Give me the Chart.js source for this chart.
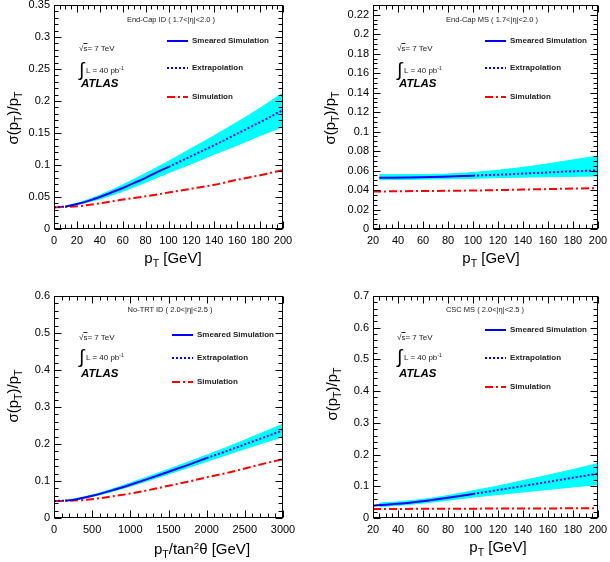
<!DOCTYPE html>
<html>
<head>
<meta charset="utf-8">
<title>Muon pT resolution</title>
<script src="https://cdn.jsdelivr.net/npm/chart.js@4.4.1/dist/chart.umd.min.js"></script>
<style>
  body { margin: 0; background: #fff; }
  #page { position: relative; width: 610px; height: 562px; overflow: hidden; font-family: "Liberation Sans", Arial, sans-serif; color: #000; }
  #page canvas { position: absolute; }
  .lbl { position: absolute; white-space: nowrap; line-height: 1; }
  .sub { font-size: 70%; position: relative; top: 0.4em; }
  .sup { font-size: 65%; position: relative; top: -0.5em; }
  .ov { text-decoration: overline; }
</style>
</head>
<body>
<div id="page">
  <canvas id="c1" width="305" height="281" style="left:0;top:0"></canvas>
  <canvas id="c2" width="305" height="281" style="left:305px;top:0"></canvas>
  <canvas id="c3" width="305" height="281" style="left:0;top:281px"></canvas>
  <canvas id="c4" width="305" height="281" style="left:305px;top:281px"></canvas>
</div>
<script>
// End-Cap ID (1.7<|eta|<2.0)
const ecidSimX = [0, 20, 40, 60, 80, 100, 120, 140, 160, 180, 200];
const ecidSimY = [0.034, 0.0355, 0.040, 0.046, 0.051, 0.057, 0.063, 0.069, 0.077, 0.084, 0.092];
const ecidSmearX = [10, 20, 30, 40, 50, 60, 70, 80, 90, 100];
const ecidSmearY = [0.035, 0.039, 0.044, 0.050, 0.057, 0.064, 0.072, 0.080, 0.089, 0.097];
const ecidExtX = [0, 10, 55, 100, 120, 140, 160, 180, 200];
const ecidExtY = [0.034, 0.035, null, 0.097, 0.114, 0.131, 0.149, 0.167, 0.186];
const ecidBandX = [10, 20, 40, 60, 80, 100, 120, 140, 160, 180, 200];
const ecidBandLo = [0.034, 0.038, 0.047, 0.059, 0.073, 0.088, 0.102, 0.117, 0.131, 0.146, 0.160];
const ecidBandHi = [0.035, 0.040, 0.053, 0.069, 0.087, 0.106, 0.126, 0.146, 0.167, 0.189, 0.213];

// End-Cap MS (1.7<|eta|<2.0)
const ecmsSimX = [20, 60, 100, 140, 200];
const ecmsSimY = [0.0385, 0.039, 0.0395, 0.0405, 0.042];
const ecmsSmearX = [25, 50, 75, 100];
const ecmsSmearY = [0.0525, 0.053, 0.0537, 0.0548];
const ecmsExtX = [100, 125, 150, 175, 200];
const ecmsExtY = [0.0548, 0.056, 0.0575, 0.059, 0.0602];
const ecmsBandX = [25, 50, 75, 100, 125, 150, 175, 200];
const ecmsBandLo = [0.0505, 0.051, 0.0515, 0.052, 0.053, 0.0535, 0.054, 0.0545];
const ecmsBandHi = [0.0558, 0.0558, 0.0562, 0.058, 0.061, 0.065, 0.070, 0.075];

// No-TRT ID (2.0<|eta|<2.5)
const ntSimX = [0, 250, 500, 750, 1000, 1250, 1500, 1750, 2000, 2250, 2500, 2750, 3000];
const ntSimY = [0.046, 0.047, 0.051, 0.058, 0.066, 0.076, 0.087, 0.098, 0.110, 0.121, 0.134, 0.147, 0.159];
const ntSmearX = [150, 250, 500, 750, 1000, 1250, 1500, 1750, 2000];
const ntSmearY = [0.047, 0.049, 0.060, 0.074, 0.090, 0.107, 0.125, 0.143, 0.162];
const ntExtX = [0, 150, 1000, 2000, 2250, 2500, 2750, 3000];
const ntExtY = [0.046, 0.047, null, 0.162, 0.180, 0.199, 0.218, 0.237];
const ntBandX = [150, 500, 1000, 1500, 2000, 2500, 3000];
const ntBandLo = [0.046, 0.058, 0.086, 0.119, 0.153, 0.187, 0.220];
const ntBandHi = [0.047, 0.062, 0.095, 0.132, 0.170, 0.211, 0.254];

// CSC MS (2.0<|eta|<2.5)
const cscSimX = [20, 60, 100, 150, 200];
const cscSimY = [0.028, 0.029, 0.0295, 0.030, 0.031];
const cscSmearX = [20, 40, 60, 80, 100];
const cscSmearY = [0.039, 0.045, 0.053, 0.064, 0.076];
const cscExtX = [100, 120, 140, 160, 180, 200];
const cscExtY = [0.076, 0.088, 0.101, 0.114, 0.127, 0.140];
const cscBandX = [25, 40, 60, 80, 100, 120, 140, 160, 180, 200];
const cscBandLo = [0.036, 0.040, 0.047, 0.056, 0.066, 0.074, 0.082, 0.090, 0.098, 0.105];
const cscBandHi = [0.047, 0.051, 0.059, 0.071, 0.086, 0.101, 0.118, 0.135, 0.153, 0.172];

const panelTitles = ["End-Cap ID ( 1.7<|η|<2.0 )", "End-Cap MS ( 1.7<|η|<2.0 )", "No-TRT ID ( 2.0<|η|<2.5 )", "CSC MS ( 2.0<|η|<2.5 )"];
const legendLabels = ["Smeared Simulation", "Extrapolation", "Simulation"];

const CYAN = "#00ffff";
const BLUE = "#0000ff";
const RED = "#ff0000";
const DASH_DOT = [8, 3, 2, 3];
const DOTS = [2, 2];

const pts = (xs, ys) => xs.map((x, i) => ({ x: x, y: ys[i] }));
const fmt = v => String(Math.round(v * 1000) / 1000);
const onStep = (v, step) => Math.abs(v / step - Math.round(v / step)) < 1e-6;

// frame + inward major/minor ticks on all four sides (ROOT look)
const frameTicks = {
    id: "frameTicks",
    afterDatasetsDraw(chart, args, opts) {
        const { ctx, chartArea: a, scales } = chart;
        const L = Math.round(a.left) + 0.5, R = Math.round(a.right) - 0.5;
        const T = Math.round(a.top) + 0.5, B = Math.round(a.bottom) - 0.5;
        ctx.save();
        ctx.strokeStyle = "#000";
        ctx.lineWidth = 1;
        ctx.strokeRect(L, T, R - L, B - T);
        ctx.beginPath();
        ["x", "y"].forEach(k => {
            const s = scales[k];
            const step = opts[k + "Step"], minor = opts[k + "Minor"];
            const n = Math.round((s.max - s.min) / minor);
            for (let i = 0; i <= n; i++) {
                const v = s.min + i * minor;
                const len = onStep(v, step) ? 7 : 4;
                const p = Math.round(s.getPixelForValue(v)) + 0.5;
                if (k === "x") {
                    ctx.moveTo(p, B); ctx.lineTo(p, B - len);
                    ctx.moveTo(p, T); ctx.lineTo(p, T + len);
                } else {
                    ctx.moveTo(L, p); ctx.lineTo(L + len, p);
                    ctx.moveTo(R, p); ctx.lineTo(R - len, p);
                }
            }
        });
        ctx.stroke();
        ctx.restore();
    }
};

function makePanel(id, area, xr, yr, d) {
    const canvas = document.getElementById(id);
    const W = canvas.width, H = canvas.height;
    const tickFont = { family: "'Liberation Sans', Arial, sans-serif", size: 11 };
    return new Chart(canvas, {
        type: "line",
        data: {
            datasets: [
                { label: "bandLo", data: pts(d.bandX, d.bandLo), borderColor: CYAN, borderWidth: 1, pointRadius: 0, fill: false, order: 3 },
                { label: "bandHi", data: pts(d.bandX, d.bandHi), borderColor: CYAN, borderWidth: 1, pointRadius: 0, fill: 0, backgroundColor: CYAN, order: 3 },
                { label: "Simulation", data: pts(d.simX, d.simY), borderColor: RED, borderWidth: 2, borderDash: DASH_DOT, pointRadius: 0, fill: false, order: 2 },
                { label: "Smeared Simulation", data: pts(d.smearX, d.smearY), borderColor: BLUE, borderWidth: 2, pointRadius: 0, fill: false, order: 1 },
                { label: "Extrapolation", data: pts(d.extX, d.extY), borderColor: BLUE, borderWidth: 2, borderDash: DOTS, pointRadius: 0, fill: false, spanGaps: false, order: 0 }
            ]
        },
        options: {
            responsive: false,
            animation: false,
            cubicInterpolationMode: "monotone",
            layout: { padding: { left: 0, top: area.t, right: W - area.r, bottom: 0 } },
            plugins: {
                legend: { display: false },
                tooltip: { enabled: false },
                frameTicks: { xStep: xr.step, xMinor: xr.minor, yStep: yr.step, yMinor: yr.minor }
            },
            scales: {
                x: {
                    type: "linear", min: xr.min, max: xr.max, bounds: "data",
                    grid: { display: false, drawTicks: false }, border: { display: false },
                    ticks: { stepSize: xr.step, includeBounds: false, autoSkip: false, maxRotation: 0, padding: 5, color: "#000", font: tickFont, callback: fmt },
                    afterBuildTicks: s => { s.ticks = s.ticks.filter(t => onStep(t.value, xr.step)); },
                    afterFit: s => { s.height = H - area.b; s.paddingLeft = 0; s.paddingRight = 0; }
                },
                y: {
                    type: "linear", min: yr.min, max: yr.max, bounds: "data",
                    grid: { display: false, drawTicks: false }, border: { display: false },
                    ticks: { stepSize: yr.step, includeBounds: false, autoSkip: false, padding: 4, color: "#000", font: tickFont, callback: fmt },
                    afterBuildTicks: s => { s.ticks = s.ticks.filter(t => onStep(t.value, yr.step)); },
                    afterFit: s => { s.width = area.l; s.paddingTop = 0; s.paddingBottom = 0; }
                }
            }
        },
        plugins: [frameTicks]
    });
}

makePanel("c1", { l: 54, r: 283, t: 5, b: 229 },
    { min: 0, max: 200, step: 20, minor: 5 }, { min: 0, max: 0.35, step: 0.05, minor: 0.01 },
    { simX: ecidSimX, simY: ecidSimY, smearX: ecidSmearX, smearY: ecidSmearY, extX: ecidExtX, extY: ecidExtY, bandX: ecidBandX, bandLo: ecidBandLo, bandHi: ecidBandHi });
makePanel("c2", { l: 68, r: 293, t: 5, b: 229 },
    { min: 20, max: 200, step: 20, minor: 5 }, { min: 0, max: 0.23, step: 0.02, minor: 0.005 },
    { simX: ecmsSimX, simY: ecmsSimY, smearX: ecmsSmearX, smearY: ecmsSmearY, extX: ecmsExtX, extY: ecmsExtY, bandX: ecmsBandX, bandLo: ecmsBandLo, bandHi: ecmsBandHi });
makePanel("c3", { l: 54, r: 283, t: 15, b: 237 },
    { min: 0, max: 3000, step: 500, minor: 100 }, { min: 0, max: 0.6, step: 0.1, minor: 0.02 },
    { simX: ntSimX, simY: ntSimY, smearX: ntSmearX, smearY: ntSmearY, extX: ntExtX, extY: ntExtY, bandX: ntBandX, bandLo: ntBandLo, bandHi: ntBandHi });
makePanel("c4", { l: 68, r: 293, t: 15, b: 237 },
    { min: 20, max: 200, step: 20, minor: 5 }, { min: 0, max: 0.7, step: 0.1, minor: 0.02 },
    { simX: cscSimX, simY: cscSimY, smearX: cscSmearX, smearY: cscSmearY, extX: cscExtX, extY: cscExtY, bandX: cscBandX, bandLo: cscBandLo, bandHi: cscBandHi });

// text overlays (real HTML text so sub/superscripts work)
const page = document.getElementById("page");
function label(html, x, y, size, extra) {
    const el = document.createElement("div");
    el.className = "lbl";
    el.innerHTML = html;
    el.style.left = x + "px";
    el.style.top = y + "px";
    el.style.fontSize = size + "px";
    el.style.transform = "translate(0,-50%)";
    Object.assign(el.style, extra || {});
    page.appendChild(el);
    return el;
}
const center = { transform: "translate(-50%,-50%)" };
const rotated = { transform: "translate(-50%,-50%) rotate(-90deg)" };
const yTitle = "σ(p<span class='sub'>T</span>)/p<span class='sub'>T</span>";

// per panel: title centre, legend sample x / rows, annotation x / rows, axis titles
const layouts = [
    { title: [171, 20], legX: 167, legY: [41, 68, 97], annX: 80, annY: [49, 70, 84], yT: [12, 118], xT: [173, 257], xText: "p<span class='sub'>T</span> [GeV]" },
    { title: [492, 20], legX: 485, legY: [41, 68, 97], annX: 398, annY: [49, 70, 84], yT: [329, 118], xT: [491, 257], xText: "p<span class='sub'>T</span> [GeV]" },
    { title: [170, 310], legX: 172, legY: [335, 358, 382], annX: 80, annY: [338, 357, 374], yT: [12, 396], xT: [202, 548], xText: "p<span class='sub'>T</span>/tan<span class='sup'>2</span>θ [GeV]" },
    { title: [485, 310], legX: 485, legY: [330, 358, 387], annX: 398, annY: [338, 357, 374], yT: [331, 394], xT: [498, 546], xText: "p<span class='sub'>T</span> [GeV]" }
];
const legendStyles = [
    { color: BLUE, dash: "" },
    { color: BLUE, dash: DOTS.join(",") },
    { color: RED, dash: DASH_DOT.join(",") }
];

layouts.forEach((p, i) => {
    label(panelTitles[i], p.title[0], p.title[1], 7.5, Object.assign({ color: "#222" }, center));
    legendLabels.forEach((txt, j) => {
        const st = legendStyles[j];
        const svg = `<svg width="21" height="4" style="position:absolute;left:0;top:-2px"><line x1="0" y1="2" x2="21" y2="2" stroke="${st.color}" stroke-width="2" stroke-dasharray="${st.dash}"/></svg>`;
        label(svg, p.legX, p.legY[j], 8);
        label(txt, p.legX + 25, p.legY[j], 8, { fontWeight: "bold", color: "#222" });
    });
    label("√<span class='ov'>s</span>= 7 TeV", p.annX - 1, p.annY[0], 8, { color: "#222" });
    label("∫", p.annX - 1, p.annY[1] - 1, 19, { fontFamily: "'DejaVu Sans', sans-serif", fontWeight: "300" });
    label("L = 40 pb<span class='sup'>-1</span>", p.annX + 6, p.annY[1] + 1, 8, { color: "#222" });
    label("ATLAS", p.annX + 1, p.annY[2], 11.5, { fontWeight: "bold", fontStyle: "italic" });
    label(yTitle, p.yT[0], p.yT[1], 15, rotated);
    label(p.xText, p.xT[0], p.xT[1], 15, center);
});
</script>
</body>
</html>
